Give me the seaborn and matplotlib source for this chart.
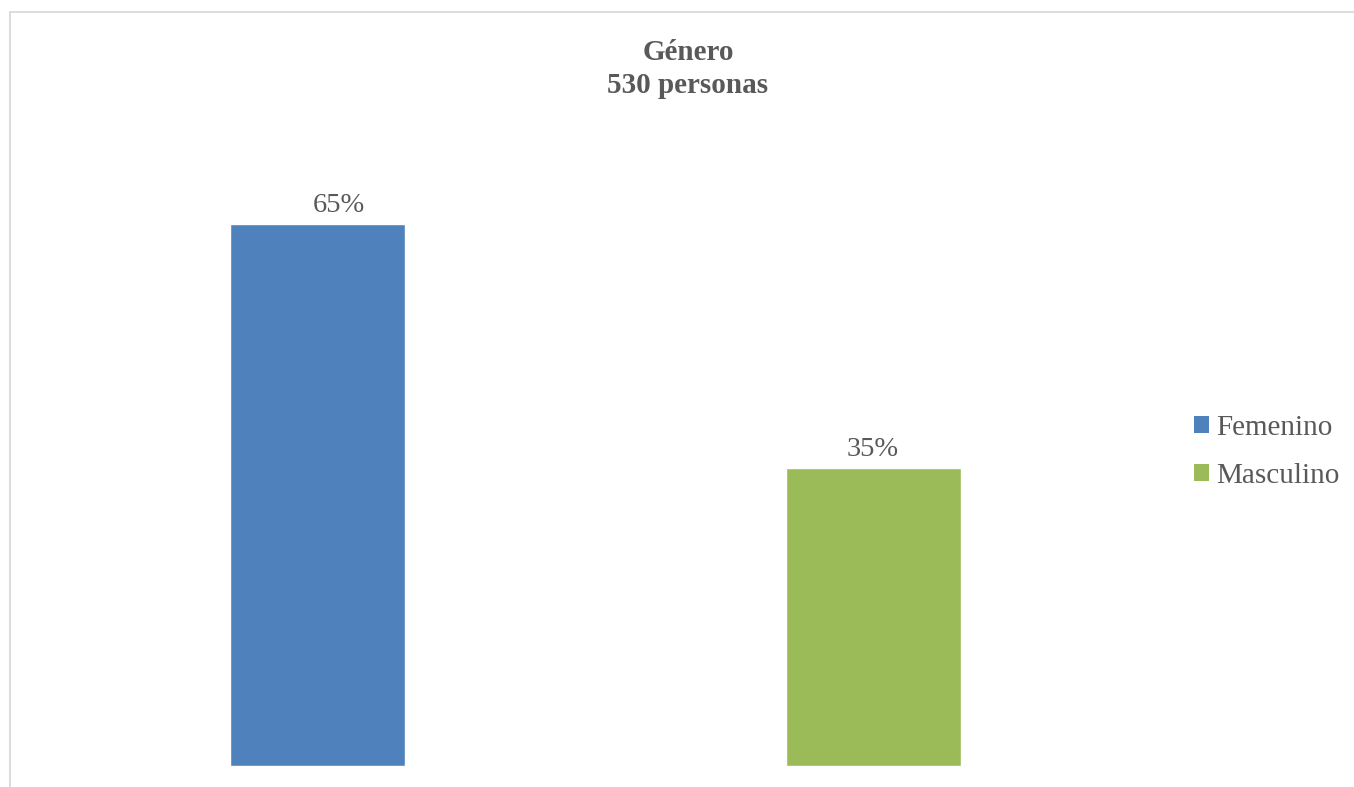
import matplotlib
matplotlib.use("Agg")
import matplotlib.pyplot as plt
import matplotlib.patches as mpatches
import seaborn as sns
import pandas as pd

# Data
categories = ["Femenino", "Masculino"]
counts = [342, 188]
total = 530
labels = ["65%", "35%"]
colors = ["#4F81BD", "#9BBB59"]

shares = [c / total for c in counts]
df = pd.DataFrame({"genero": categories, "share": shares})

sns.set_theme(style="white")
plt.rcParams["font.family"] = ["Liberation Serif", "DejaVu Serif"]
text_color = "#595959"

fig = plt.figure(figsize=(13.54, 7.87), dpi=100)
ax = fig.add_axes([39.5 / 1354, 21 / 787, 1112 / 1354, 588 / 787])

sns.barplot(data=df, x="genero", y="share", hue="genero", palette=colors,
            width=0.315, saturation=1, ax=ax, legend=False)

ax.set_xlim(-0.5, 1.5)
ax.set_ylim(0, 0.70)
ax.set_xlabel("")
ax.set_ylabel("")
ax.set_xticks([])
ax.set_yticks([])
for s in ax.spines.values():
    s.set_visible(False)

offsets = [(21, 6), (-1, 6)]
for bar, lab, off in zip(ax.patches, labels, offsets):
    ax.annotate(lab, (bar.get_x() + bar.get_width() / 2, bar.get_height()),
                xytext=off, textcoords="offset pixels", ha="center", va="bottom",
                fontsize=20.5, color=text_color)

fig.text(688 / 1354, 1 - 69 / 787, "Género\n530 personas", ha="center", va="center",
         fontsize=21, fontweight="bold", color=text_color, linespacing=1.32)

handles = [mpatches.Patch(facecolor=c, edgecolor="none") for c in colors]
leg = fig.legend(handles, categories, loc="center left",
                 bbox_to_anchor=(1194 / 1354, 1 - 452 / 787),
                 frameon=False, fontsize=21, handlelength=0.52, handleheight=0.52,
                 handletextpad=0.25, labelspacing=0.76, borderpad=0, borderaxespad=0)
for t in leg.get_texts():
    t.set_color(text_color)

border = mpatches.Rectangle((9.5 / 1354, -0.1), 1.2, 1 - 11.5 / 787 + 0.1,
                            transform=fig.transFigure, fill=False,
                            edgecolor="#D9D9D9", linewidth=1.3, clip_on=False)
fig.patches.append(border)

fig.savefig("out.png", dpi=100, facecolor="white")
